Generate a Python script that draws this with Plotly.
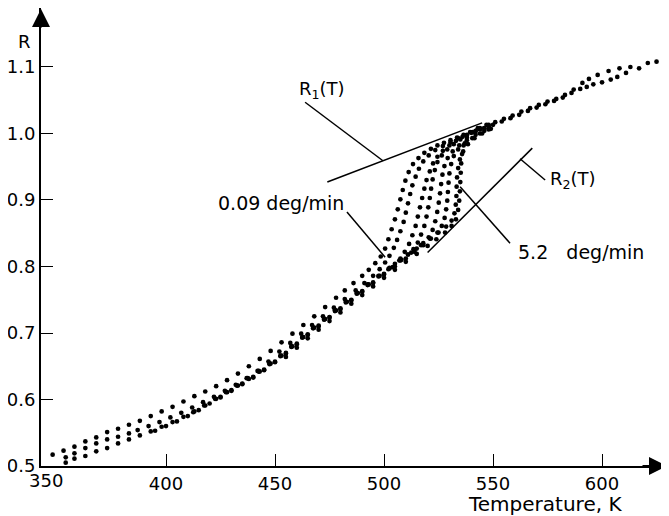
import plotly.graph_objects as go

# ---------------- data ----------------
x_tick_vals = [400, 450, 500, 550, 600]
x_tick_text = ["400", "450", "500", "550", "600"]
y_tick_vals = [0.5, 0.6, 0.7, 0.8, 0.9, 1.0, 1.1]
y_tick_text = ["0.5", "0.6", "0.7", "0.8", "0.9", "1.0", "1.1"]

# measured R(T) points, one list of (T, R) per heating rate (slowest 0.09 deg/min first,
# fastest 5.2 deg/min last)
curve_1 = [(348, 0.517), (353, 0.523), (358, 0.529), (363, 0.537), (368, 0.543), (373, 0.551), (378, 0.556),
           (383, 0.562), (388, 0.568), (393, 0.575), (398, 0.582), (403, 0.589), (408, 0.597), (413, 0.605),
           (418, 0.612), (423, 0.620), (428, 0.629), (433, 0.639), (438, 0.650), (443, 0.661), (448, 0.673),
           (453, 0.686), (458, 0.699), (463, 0.712), (468, 0.725), (473, 0.739), (478, 0.753), (482, 0.764),
           (486, 0.775), (490, 0.786), (493, 0.795), (496, 0.805), (498.5, 0.815), (500.5, 0.827),
           (502, 0.841), (503.5, 0.856), (505, 0.871), (506.3, 0.886), (507.5, 0.901), (508.6, 0.915),
           (509.8, 0.929), (511.3, 0.942), (513.3, 0.954), (515.8, 0.963), (518.5, 0.971), (521.5, 0.977),
           (524.5, 0.982), (527.5, 0.986), (530.5, 0.990), (533.5, 0.994), (536.5, 0.998), (539.5, 1.002),
           (543, 1.008), (547, 1.013), (551, 1.017), (555, 1.022), (559, 1.027), (563, 1.033), (567, 1.038),
           (571, 1.043), (575, 1.048), (579, 1.052), (583, 1.058), (587, 1.066), (591, 1.076), (594, 1.082),
           (598, 1.088), (603, 1.094), (608, 1.098), (613, 1.100), (617, 1.098), (621, 1.106), (625, 1.108),
           (629, 1.114)]
curve_2 = [(354, 0.513), (358, 0.519), (363, 0.527), (368, 0.534), (373, 0.540), (378, 0.544), (383, 0.549),
           (387, 0.554), (392, 0.560), (397, 0.566), (402, 0.573), (407, 0.580), (412, 0.588), (417, 0.596),
           (422, 0.604), (427, 0.613), (432, 0.622), (437, 0.632), (442, 0.643), (447, 0.657), (452, 0.672),
           (457, 0.685), (462, 0.699), (467, 0.712), (472, 0.725), (477, 0.738), (482, 0.751), (487, 0.764),
           (491, 0.775), (495, 0.786), (498, 0.796), (500.5, 0.806), (502.5, 0.816), (504.5, 0.828),
           (506, 0.840), (507.5, 0.853), (509, 0.867), (510, 0.881), (511, 0.895), (512, 0.909), (513, 0.922),
           (514.5, 0.935), (516, 0.947), (518, 0.958), (520.5, 0.967), (523.5, 0.975), (527, 0.981),
           (530.5, 0.987), (534, 0.993), (538, 0.998), (542, 1.004), (546, 1.008), (550, 1.013), (554, 1.018),
           (558, 1.023), (562, 1.028), (566, 1.034), (570, 1.039), (574, 1.044), (578, 1.049), (582, 1.054),
           (586, 1.061), (590, 1.067), (593, 1.070), (596, 1.074), (600, 1.077), (604, 1.081), (607, 1.085),
           (611, 1.091)]
curve_3 = [(354, 0.505), (358, 0.511), (363, 0.515), (368, 0.522), (373, 0.527), (378, 0.534), (383, 0.540),
           (388, 0.546), (393, 0.552), (398, 0.559), (403, 0.566), (408, 0.574), (413, 0.582), (418, 0.591),
           (423, 0.601), (428, 0.611), (433, 0.621), (438, 0.631), (443, 0.642), (448, 0.654), (453, 0.666),
           (458, 0.680), (463, 0.694), (468, 0.708), (473, 0.721), (478, 0.734), (483, 0.747), (488, 0.760),
           (493, 0.773), (498, 0.786), (502, 0.796), (505, 0.804), (507.5, 0.812), (509.5, 0.822),
           (511.5, 0.834), (513, 0.847), (514.5, 0.861), (515.5, 0.875), (516.5, 0.889), (517.5, 0.903),
           (518.5, 0.917), (519.5, 0.930), (521, 0.943), (522.5, 0.955), (524.5, 0.965), (527, 0.974),
           (530, 0.982), (533, 0.989), (536, 0.995), (540, 1.001), (544, 1.006), (548, 1.011)]
curve_4 = [(395, 0.553), (400, 0.560), (405, 0.567), (410, 0.575), (415, 0.584), (420, 0.594), (425, 0.604),
           (430, 0.614), (435, 0.624), (440, 0.634), (445, 0.645), (450, 0.657), (455, 0.670), (460, 0.684),
           (465, 0.698), (470, 0.711), (475, 0.724), (480, 0.737), (485, 0.750), (490, 0.763), (495, 0.776),
           (500, 0.789), (504, 0.799), (508, 0.810), (511, 0.818), (513.5, 0.826), (515.5, 0.836),
           (517, 0.848), (518.5, 0.861), (519.5, 0.875), (520.3, 0.889), (521, 0.903), (521.6, 0.917),
           (522.3, 0.931), (523.3, 0.945), (524.5, 0.957), (526.5, 0.967), (529, 0.976), (532, 0.984),
           (535, 0.991), (538, 0.997), (542, 1.003), (546, 1.008)]
curve_5 = [(412.5, 0.581), (417.5, 0.591), (422.5, 0.601), (427.5, 0.611), (432.5, 0.621), (437.5, 0.632),
           (442.5, 0.643), (447.5, 0.654), (452.5, 0.666), (457.5, 0.680), (462.5, 0.694), (467.5, 0.708),
           (472.5, 0.721), (477.5, 0.734), (482.5, 0.747), (487.5, 0.760), (492.5, 0.773), (497.5, 0.786),
           (502.5, 0.798), (507, 0.809), (511, 0.818), (515, 0.827), (518, 0.835), (520.5, 0.844),
           (522.3, 0.855), (523.5, 0.868), (524.4, 0.882), (525.1, 0.896), (525.7, 0.910), (526.2, 0.924),
           (526.8, 0.938), (527.7, 0.951), (529.2, 0.963), (531.5, 0.973), (534.5, 0.982), (538, 0.990),
           (542, 0.998), (546, 1.004)]
curve_6 = [(425, 0.603), (430, 0.613), (435, 0.623), (440, 0.633), (445, 0.644), (450, 0.656), (455, 0.669),
           (460, 0.683), (465, 0.697), (470, 0.710), (475, 0.723), (480, 0.736), (485, 0.749), (490, 0.762),
           (495, 0.775), (500, 0.788), (505, 0.800), (510, 0.812), (514, 0.822), (518, 0.832), (521.5, 0.842),
           (524.5, 0.851), (526.5, 0.861), (527.8, 0.873), (528.5, 0.886), (529, 0.899), (529.3, 0.912),
           (529.6, 0.926), (530, 0.940), (530.8, 0.954), (532, 0.966), (534, 0.976), (537, 0.985),
           (540.5, 0.993), (544, 1.000), (548, 1.006)]
curve_7 = [(442.5, 0.642), (447.5, 0.653), (452.5, 0.665), (457.5, 0.679), (462.5, 0.693), (467.5, 0.707),
           (472.5, 0.720), (477.5, 0.733), (482.5, 0.746), (487.5, 0.759), (492.5, 0.772), (497.5, 0.785),
           (502.5, 0.797), (507.5, 0.809), (512.5, 0.821), (517, 0.832), (521, 0.842), (525, 0.851),
           (528.5, 0.860), (531, 0.869), (532.3, 0.880), (532.9, 0.893), (533.2, 0.906), (533.3, 0.920),
           (533.5, 0.934), (534, 0.948), (534.8, 0.961), (536.3, 0.973), (538.5, 0.984), (541.5, 0.993),
           (545, 1.000), (549, 1.007)]
curve_8 = [(455, 0.664), (460, 0.678), (465, 0.692), (470, 0.705), (475, 0.718), (480, 0.731), (485, 0.744),
           (490, 0.757), (495, 0.770), (500, 0.783), (505, 0.795), (510, 0.807), (515, 0.819), (520, 0.831),
           (524, 0.841), (528, 0.851), (531, 0.861), (533, 0.871), (534, 0.885), (534.5, 0.899),
           (534.8, 0.913), (535, 0.927), (535.2, 0.941), (535.4, 0.955), (535.8, 0.969), (536.5, 0.982),
           (538, 0.994), (540.5, 1.002), (544, 1.008), (548, 1.013)]

# the two limiting straight lines R1(T) and R2(T)
r1_T = [474, 545]
r1_R = [0.927, 1.016]
r2_T = [520, 568]
r2_R = [0.821, 0.978]

curves = [curve_1, curve_2, curve_3, curve_4, curve_5, curve_6, curve_7, curve_8]

# ---------------- figure ----------------
FONT = "DejaVu Sans"
fig = go.Figure()

for c in curves:
    fig.add_trace(go.Scatter(
        x=[p[0] for p in c], y=[p[1] for p in c], mode="markers",
        marker=dict(color="black", size=4.7, line=dict(width=0)),
        showlegend=False, hoverinfo="skip"))

for tx, ry in [(r1_T, r1_R), (r2_T, r2_R)]:
    fig.add_trace(go.Scatter(x=tx, y=ry, mode="lines",
                             line=dict(color="black", width=1.5),
                             showlegend=False, hoverinfo="skip"))

# leader lines from labels (data coordinates)
leaders = [
    ((463.8, 1.047), (499.5, 0.959)),   # R1(T)
    ((483.0, 0.882), (500.5, 0.814)),   # 0.09 deg/min
    ((562.4, 0.962), (573.9, 0.930)),   # R2(T)
    ((534.9, 0.920), (557.8, 0.835)),   # 5.2 deg/min
]
for (xa, ya), (xb, yb) in leaders:
    fig.add_shape(type="line", x0=xa, y0=ya, x1=xb, y1=yb,
                  line=dict(color="black", width=1.5))

lab_font = dict(family=FONT, size=18, color="black")
rate_font = dict(family=FONT, size=19, color="black")
fig.add_annotation(x=471.6, y=1.065, text="R<sub>1</sub>(T)", showarrow=False, font=lab_font,
                   xanchor="center", yanchor="middle")
fig.add_annotation(x=452.8, y=0.895, text="0.09 deg/min", showarrow=False, font=rate_font,
                   xanchor="center", yanchor="middle")
fig.add_annotation(x=575.0, y=0.930, text="R<sub>2</sub>(T)", showarrow=False, font=lab_font,
                   xanchor="left", yanchor="middle")
fig.add_annotation(x=560.5, y=0.822, text="5.2   deg/min", showarrow=False, font=rate_font,
                   xanchor="left", yanchor="middle")

# axis titles and corner label
fig.add_annotation(xref="paper", yref="paper", x=0.805, y=-0.082, text="Temperature, K",
                   showarrow=False, font=dict(family=FONT, size=20, color="black"),
                   xanchor="center", yanchor="middle")
fig.add_annotation(xref="paper", yref="paper", x=-0.027, y=0.926, text="R",
                   showarrow=False, font=dict(family=FONT, size=18, color="black"),
                   xanchor="center", yanchor="middle")
fig.add_annotation(xref="paper", yref="paper", x=0.008, y=-0.031, text="350",
                   showarrow=False, font=dict(family=FONT, size=18, color="black"),
                   xanchor="center", yanchor="middle")

# axis arrow heads
fig.add_annotation(xref="paper", yref="paper", x=0, y=1.011, ax=0, ay=26, text="",
                   showarrow=True, arrowhead=2, arrowsize=1.8, arrowwidth=2, arrowcolor="black")
fig.add_annotation(xref="paper", yref="paper", x=1.0, y=0, ax=-26, ay=0, text="",
                   showarrow=True, arrowhead=2, arrowsize=1.8, arrowwidth=2, arrowcolor="black")

fig.update_layout(
    width=669, height=516,
    margin=dict(l=33, r=10, t=0, b=58),
    paper_bgcolor="white", plot_bgcolor="white",
    font=dict(family=FONT, size=18, color="black"),
    xaxis=dict(range=[342.66, 629.8], tickvals=x_tick_vals, ticktext=x_tick_text,
               ticks="inside", ticklen=12, tickwidth=1.2, tickcolor="black",
               showline=True, linewidth=2, linecolor="black",
               showgrid=False, zeroline=False, tickfont=dict(family=FONT, size=18)),
    yaxis=dict(range=[0.5, 1.1887], tickvals=y_tick_vals, ticktext=y_tick_text,
               ticks="inside", ticklen=12, tickwidth=1.2, tickcolor="black",
               showline=True, linewidth=2, linecolor="black",
               showgrid=False, zeroline=False, tickfont=dict(family=FONT, size=18)),
)

fig.write_html("out.html")
